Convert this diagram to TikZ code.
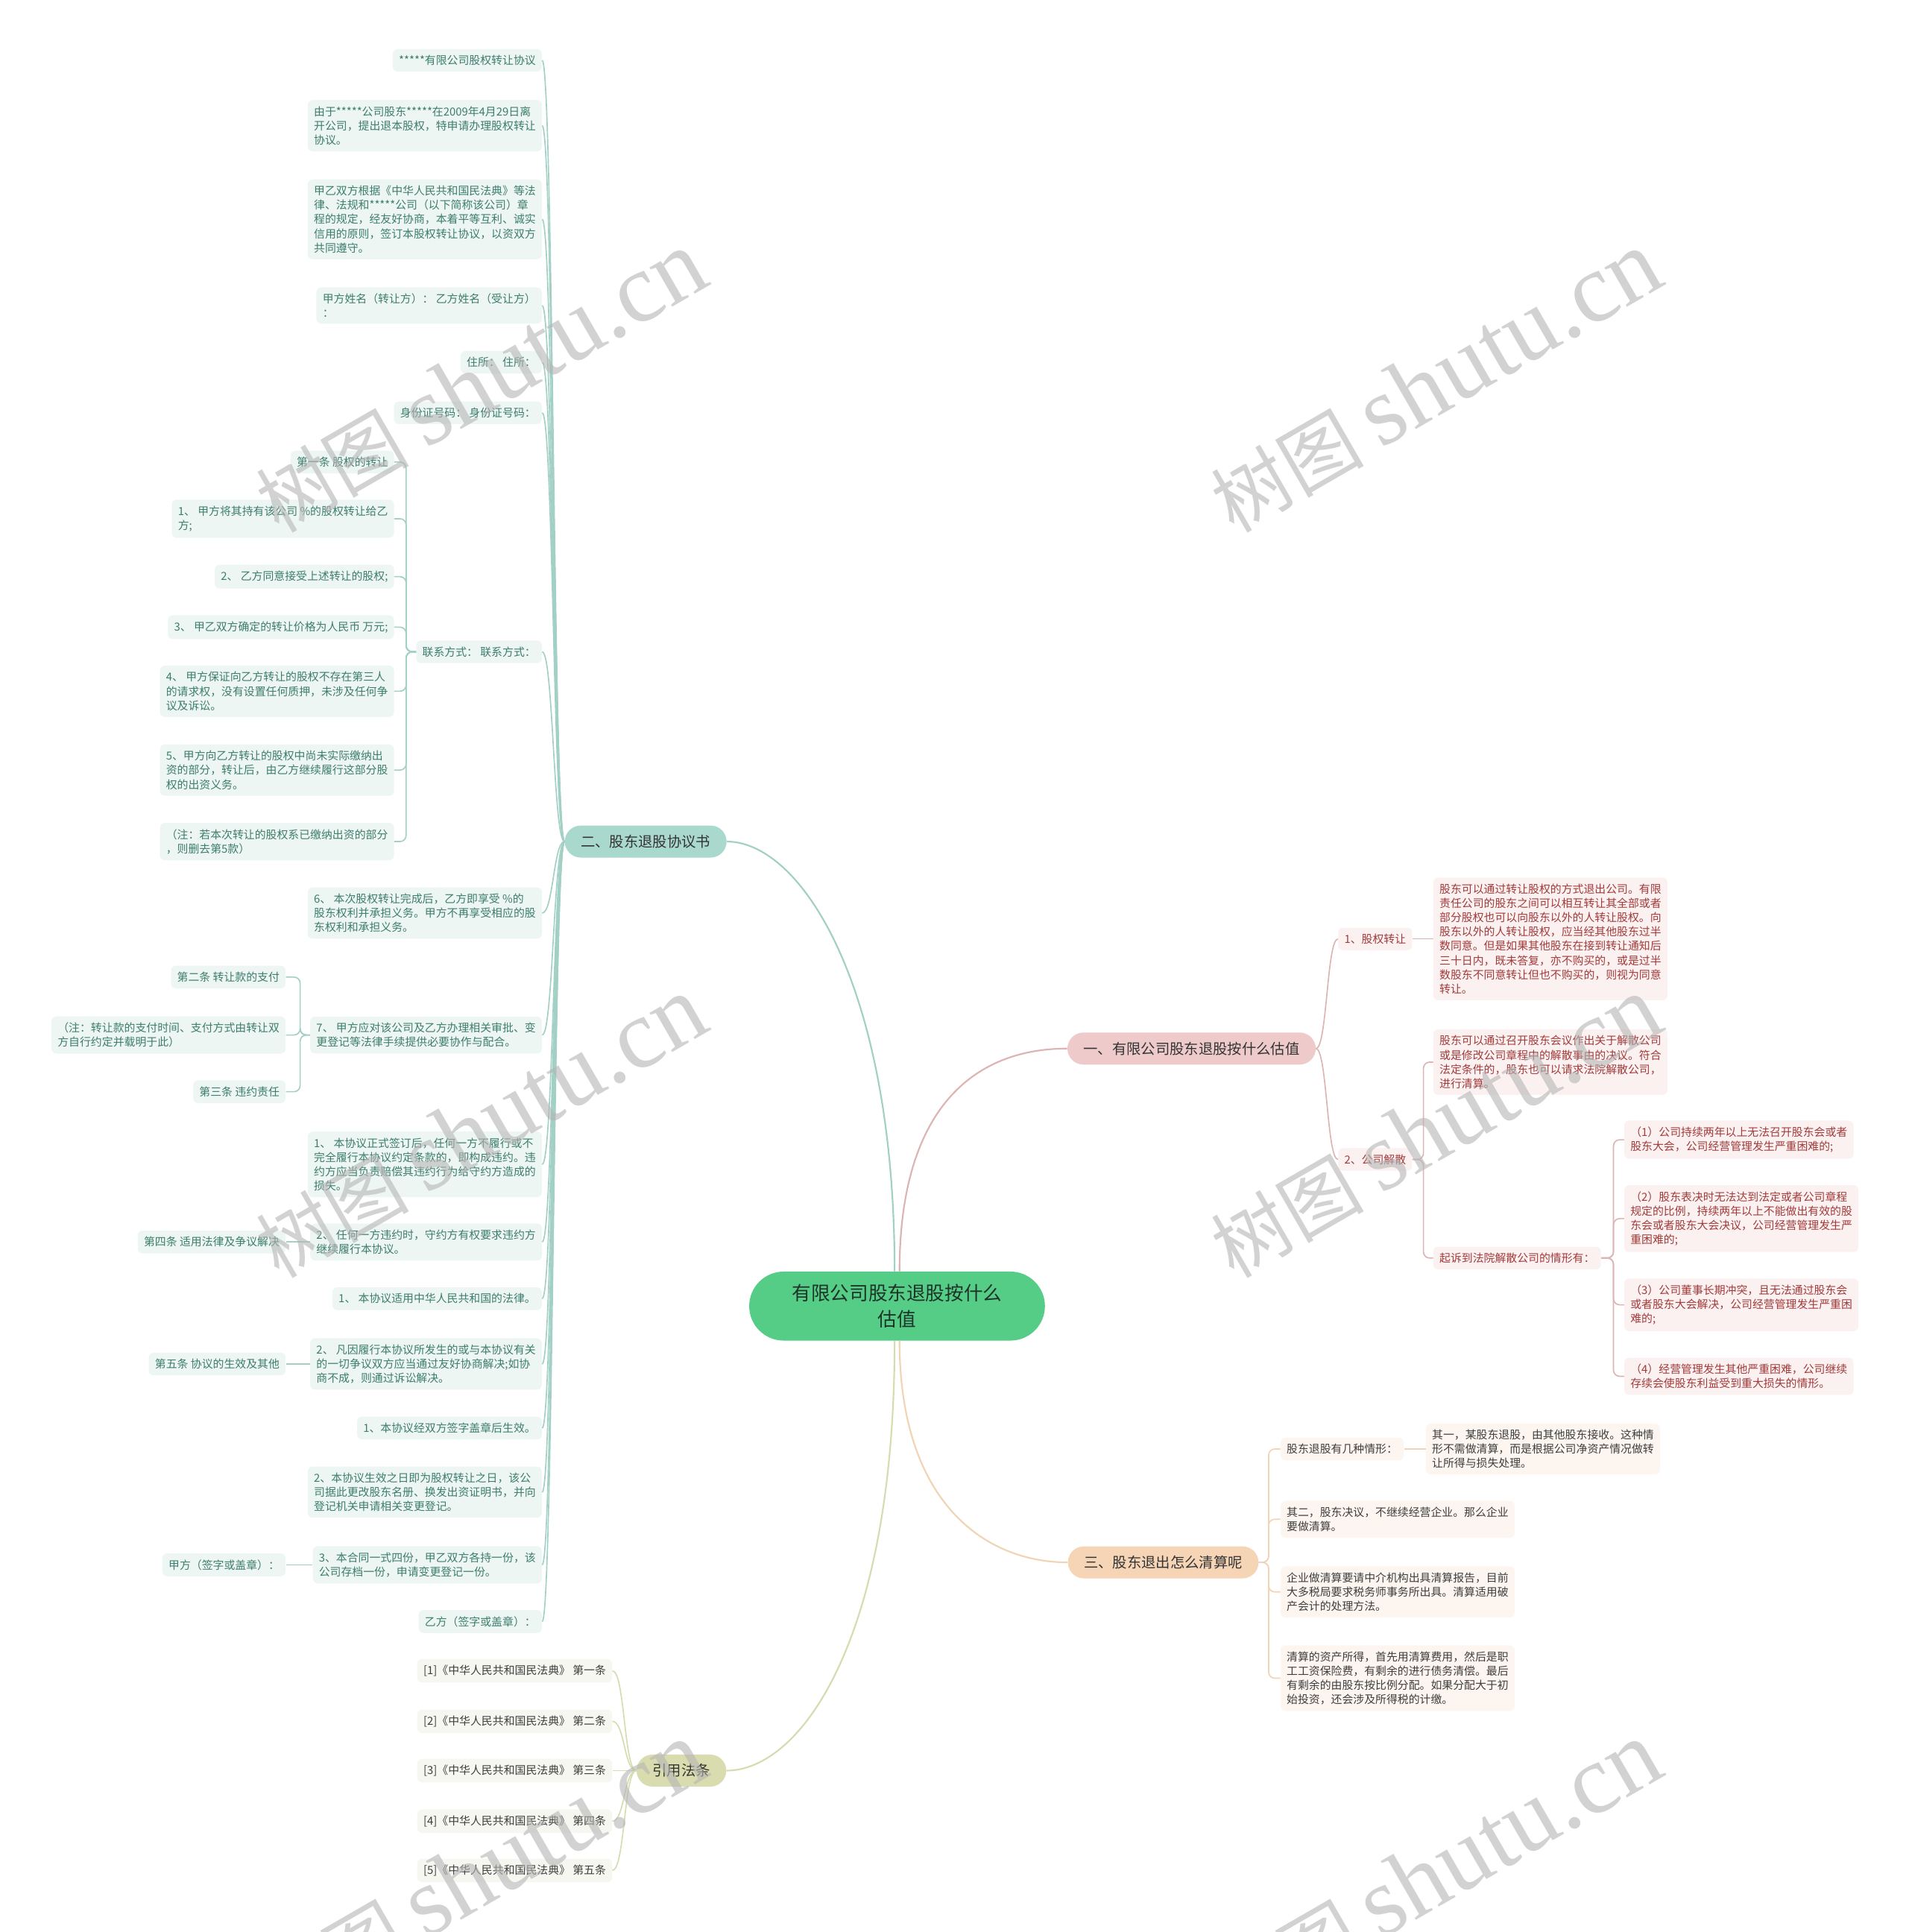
\documentclass[tikz,border=0pt]{standalone}
\usepackage{fontspec}
\setmainfont{Noto Sans CJK SC}
\newfontfamily\wmlatin{Liberation Serif}
\usetikzlibrary{positioning,calc}
\definecolor{ctrgreen}{HTML}{55CD87}
\definecolor{ctrink}{HTML}{1E3327}
\definecolor{topicink}{HTML}{333333}
\definecolor{tealtopic}{HTML}{A9D8CD}
\definecolor{tealline}{HTML}{A2D0C5}
\definecolor{tealpale}{HTML}{EEF6F4}
\definecolor{tealink}{HTML}{3C7D6C}
\definecolor{rosetopic}{HTML}{EFCACA}
\definecolor{roseline}{HTML}{DDB4B4}
\definecolor{rosepale}{HTML}{FBF1F1}
\definecolor{roseink}{HTML}{A23A3A}
\definecolor{peachtopic}{HTML}{F6D5B6}
\definecolor{peachline}{HTML}{F0D4B4}
\definecolor{peachpale}{HTML}{FDF6F0}
\definecolor{peachink}{HTML}{3E3E3E}
\definecolor{olivetopic}{HTML}{D8DCAE}
\definecolor{oliveline}{HTML}{D7DBB0}
\definecolor{olivepale}{HTML}{F7F7F1}
\definecolor{oliveink}{HTML}{3E3E3E}
\definecolor{wmgray}{HTML}{B5B5B5}
\tikzset{
  ctrbox/.style={fill=ctrgreen, text=ctrink, rounded corners=28pt, minimum width=240pt, minimum height=56pt, align=center, font=\fontsize{15.5}{21}\selectfont},
  topic/.style={rounded corners=13pt, minimum height=26pt, inner xsep=13pt, inner ysep=0pt, text=topicink, font=\fontsize{11.7}{14}\selectfont},
  leaf/.style={rounded corners=4pt, inner xsep=5pt, inner ysep=5pt, align=left, font=\fontsize{9}{11.6}\selectfont},
  tleaf/.style={leaf, fill=tealpale, text=tealink},
  rleaf/.style={leaf, fill=rosepale, text=roseink},
  pleaf/.style={leaf, fill=peachpale, text=peachink},
  oleaf/.style={leaf, fill=olivepale, text=oliveink},
  trunk/.style={line width=1.3pt},
  twig/.style={line width=1pt},
  fork/.style={twig, rounded corners=5pt},
  wm/.style={rotate=30, text=wmgray, text opacity=0.6},
}
\begin{document}
\begin{tikzpicture}[x=1pt, y=-1pt]
  \fill[white] (0,0) rectangle (1549,1568);
  \useasboundingbox (0,0) rectangle (1549,1568);

  % centre and main topics
  \node[ctrbox] (ctr) at (728,1060) {有限公司股东退股按什么\\估值};
  \node[topic, fill=tealtopic] (sec2) at (524,683) {二、股东退股协议书};
  \node[topic, fill=rosetopic] (sec1) at (967,851) {一、有限公司股东退股按什么估值};
  \node[topic, fill=peachtopic] (sec3) at (944,1268) {三、股东退出怎么清算呢};
  \node[topic, fill=olivetopic] (cite) at (553,1437) {引用法条};

  \draw[trunk, tealline] ([xshift=-2pt]ctr.north) .. controls (726,800) and (650,683) .. (sec2.east);
  \draw[trunk, roseline] ([xshift=2pt]ctr.north) .. controls (730,900) and (790,851) .. (sec1.west);
  \draw[trunk, peachline] ([xshift=2pt]ctr.south) .. controls (730,1220) and (800,1268) .. (sec3.west);
  \draw[trunk, oliveline] ([xshift=-2pt]ctr.south) .. controls (726,1330) and (650,1437) .. (cite.east);

  % agreement text (left)
  \foreach \n/\y/\t in {
      t1/49/{*****有限公司股权转让协议},
      t2/102/{由于*****公司股东*****在2009年4月29日离\\开公司，提出退本股权，特申请办理股权转让\\协议。},
      t3/178/{甲乙双方根据《中华人民共和国民法典》等法\\律、法规和*****公司（以下简称该公司）章\\程的规定，经友好协商，本着平等互利、诚实\\信用的原则，签订本股权转让协议，以资双方\\共同遵守。},
      t4/248/{甲方姓名（转让方）： 乙方姓名（受让方）\\：},
      t5/294/{住所： 住所：},
      t6/335/{身份证号码： 身份证号码：},
      t7/529/{联系方式： 联系方式：},
      t8/741/{6、 本次股权转让完成后，乙方即享受 \%的\\股东权利并承担义务。甲方不再享受相应的股\\东权利和承担义务。},
      t9/840/{7、 甲方应对该公司及乙方办理相关审批、变\\更登记等法律手续提供必要协作与配合。},
      t10/945/{1、 本协议正式签订后，任何一方不履行或不\\完全履行本协议约定条款的，即构成违约。违\\约方应当负责赔偿其违约行为给守约方造成的\\损失。},
      t11/1008/{2、 任何一方违约时，守约方有权要求违约方\\继续履行本协议。},
      t12/1054/{1、 本协议适用中华人民共和国的法律。},
      t13/1107/{2、 凡因履行本协议所发生的或与本协议有关\\的一切争议双方应当通过友好协商解决;如协\\商不成，则通过诉讼解决。},
      t14/1159/{1、本协议经双方签字盖章后生效。},
      t15/1211/{2、本协议生效之日即为股权转让之日，该公\\司据此更改股东名册、换发出资证明书，并向\\登记机关申请相关变更登记。},
      t16/1270/{3、本合同一式四份，甲乙双方各持一份，该\\公司存档一份，申请变更登记一份。},
      t17/1316/{乙方（签字或盖章）：}}
    \node[tleaf, anchor=east] (\n) at (440,\y) {\t};
  \foreach \i in {1,...,17}
    \draw[twig, tealline] (sec2.west) .. controls +(-9,0) and +(9,0) .. (t\i.east);

  \foreach \n/\y/\t in {
      k1/375/{第一条 股权的转让},
      k2/421/{1、 甲方将其持有该公司 \%的股权转让给乙\\方;},
      k3/468/{2、 乙方同意接受上述转让的股权;},
      k4/509/{3、 甲乙双方确定的转让价格为人民币 万元;},
      k5/561/{4、 甲方保证向乙方转让的股权不存在第三人\\的请求权，没有设置任何质押，未涉及任何争\\议及诉讼。},
      k6/625/{5、甲方向乙方转让的股权中尚未实际缴纳出\\资的部分，转让后，由乙方继续履行这部分股\\权的出资义务。},
      k7/683/{（注：若本次转让的股权系已缴纳出资的部分\\，则删去第5款）}}
    \node[tleaf, anchor=east] (\n) at (320,\y) {\t};
  \foreach \i in {1,...,7}
    \draw[fork, tealline] (t7.west) -- ++(-8,0) |- (k\i.east);

  \foreach \n/\y/\t in {
      p1/793/{第二条 转让款的支付},
      p2/840/{（注：转让款的支付时间、支付方式由转让双\\方自行约定并载明于此）},
      p3/886/{第三条 违约责任}}
    \node[tleaf, anchor=east] (\n) at (232,\y) {\t};
  \foreach \i in {1,2,3}
    \draw[fork, tealline] (t9.west) -- ++(-8,0) |- (p\i.east);

  \node[tleaf, anchor=east] (q1) at (232,1008) {第四条 适用法律及争议解决};
  \node[tleaf, anchor=east] (q2) at (232,1107) {第五条 协议的生效及其他};
  \node[tleaf, anchor=east] (q3) at (232,1270) {甲方（签字或盖章）：};
  \draw[twig, tealline] (t11.west) -- (q1.east);
  \draw[twig, tealline] (t13.west) -- (q2.east);
  \draw[twig, tealline] (t16.west) -- (q3.east);

  % cited articles
  \foreach \i/\y/\t in {1/1356/第一条, 2/1397/第二条, 3/1437/第三条, 4/1478/第四条, 5/1518/第五条}
    \node[oleaf, anchor=east] (e\i) at (497,\y) {[\i]《中华人民共和国民法典》 \t};
  \foreach \i in {1,...,5}
    \draw[twig, oliveline] (cite.west) .. controls +(-10,0) and +(10,0) .. (e\i.east);

  % valuation (right)
  \node[rleaf] (f1) at (1116,762) {1、股权转让};
  \node[rleaf] (f2) at (1116,941) {2、公司解散};
  \foreach \i in {1,2}
    \draw[twig, roseline] (sec1.east) .. controls +(9,0) and +(-9,0) .. (f\i.west);

  \node[rleaf, anchor=west] (g1) at (1163,762) {股东可以通过转让股权的方式退出公司。有限\\责任公司的股东之间可以相互转让其全部或者\\部分股权也可以向股东以外的人转让股权。向\\股东以外的人转让股权，应当经其他股东过半\\数同意。但是如果其他股东在接到转让通知后\\三十日内，既未答复，亦不购买的，或是过半\\数股东不同意转让但也不购买的，则视为同意\\转让。};
  \node[rleaf, anchor=west] (g2) at (1163,862) {股东可以通过召开股东会议作出关于解散公司\\或是修改公司章程中的解散事由的决议。符合\\法定条件的，股东也可以请求法院解散公司，\\进行清算。};
  \node[rleaf, anchor=west] (g3) at (1163,1021) {起诉到法院解散公司的情形有：};
  \draw[twig, roseline] (f1.east) -- (g1.west);
  \foreach \i in {2,3}
    \draw[fork, roseline] (f2.east) -- ++(9,0) |- (g\i.west);

  \foreach \n/\y/\t in {
      h1/925/{（1）公司持续两年以上无法召开股东会或者\\股东大会，公司经营管理发生严重困难的;},
      h2/989/{（2）股东表决时无法达到法定或者公司章程\\规定的比例，持续两年以上不能做出有效的股\\东会或者股东大会决议，公司经营管理发生严\\重困难的;},
      h3/1059/{（3）公司董事长期冲突，且无法通过股东会\\或者股东大会解决，公司经营管理发生严重困\\难的;},
      h4/1117/{（4）经营管理发生其他严重困难，公司继续\\存续会使股东利益受到重大损失的情形。}}
    \node[rleaf, anchor=west] (\n) at (1318,\y) {\t};
  \foreach \i in {1,...,4}
    \draw[fork, roseline] (g3.east) -- ++(10,0) |- (h\i.west);

  % liquidation (right)
  \foreach \n/\y/\t in {
      i1/1176/{股东退股有几种情形：},
      i2/1233/{其二，股东决议，不继续经营企业。那么企业\\要做清算。},
      i3/1292/{企业做清算要请中介机构出具清算报告，目前\\大多税局要求税务师事务所出具。清算适用破\\产会计的处理方法。},
      i4/1362/{清算的资产所得，首先用清算费用，然后是职\\工工资保险费，有剩余的进行债务清偿。最后\\有剩余的由股东按比例分配。如果分配大于初\\始投资，还会涉及所得税的计缴。}}
    \node[pleaf, anchor=west] (\n) at (1039,\y) {\t};
  \foreach \i in {1,...,4}
    \draw[fork, peachline] (sec3.east) -- ++(8,0) |- (i\i.west);
  \node[pleaf, anchor=west] (j1) at (1157,1176) {其一，某股东退股，由其他股东接收。这种情\\形不需做清算，而是根据公司净资产情况做转\\让所得与损失处理。};
  \draw[twig, peachline] (i1.east) -- (j1.west);

  % watermarks
  \foreach \n/\x/\y in {wm1/390/310, wm2/1165/310, wm3/390/915, wm4/1165/915, wm5/390/1520, wm6/1165/1520}
    \node[wm] (\n) at (\x,\y) {\fontsize{62}{70}\selectfont 树图 {\wmlatin\fontsize{80}{90}\selectfont shutu.cn}};
\end{tikzpicture}
\end{document}
